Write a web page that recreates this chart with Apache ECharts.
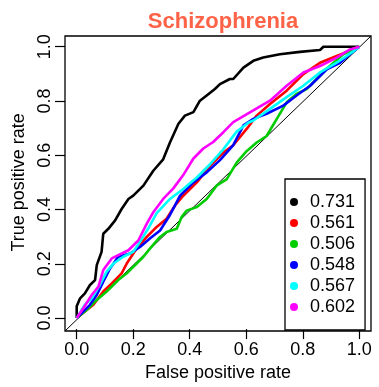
<!DOCTYPE html>
<html>
<head>
<meta charset="utf-8">
<script src="https://cdn.jsdelivr.net/npm/echarts@6/dist/echarts.min.js"></script>
<style>
html,body{margin:0;padding:0;background:#fff;}
#chart{width:379px;height:387px;}
</style>
</head>
<body>
<div id="chart"></div>
<script>
// ---- Data ----
var titleText = "Schizophrenia";
var xTitle = "False positive rate";
var yTitle = "True positive rate";
var tickValues = [0, 0.2, 0.4, 0.6, 0.8, 1.0];

var aucLabels = ["0.731", "0.561", "0.506", "0.548", "0.567", "0.602"];
var colors = ["#000000", "#FF0000", "#00CD00", "#0000FF", "#00FFFF", "#FF00FF"];

var fprBlack = [0, 0, 0.012, 0.029, 0.047, 0.065, 0.071, 0.088, 0.094, 0.112, 0.136, 0.159, 0.183, 0.2, 0.236, 0.271, 0.306, 0.33, 0.36, 0.383, 0.413, 0.436, 0.46, 0.489, 0.507, 0.542, 0.554, 0.59, 0.625, 0.66, 0.719, 0.79, 0.861, 0.873, 1.0];
var tprBlack = [0, 0.044, 0.073, 0.091, 0.122, 0.14, 0.195, 0.244, 0.311, 0.329, 0.36, 0.402, 0.439, 0.451, 0.488, 0.543, 0.585, 0.647, 0.716, 0.746, 0.759, 0.801, 0.82, 0.844, 0.862, 0.881, 0.881, 0.923, 0.948, 0.96, 0.972, 0.981, 0.988, 1.0, 1.0];

var fprRed = [0, 0.059, 0.094, 0.124, 0.159, 0.177, 0.212, 0.248, 0.283, 0.318, 0.348, 0.377, 0.425, 0.472, 0.519, 0.554, 0.602, 0.637, 0.684, 0.743, 0.802, 0.861, 0.92, 0.979, 1.0];
var tprRed = [0, 0.049, 0.098, 0.128, 0.165, 0.201, 0.256, 0.299, 0.336, 0.366, 0.415, 0.451, 0.5, 0.561, 0.61, 0.637, 0.698, 0.746, 0.789, 0.838, 0.899, 0.941, 0.966, 0.99, 1.0];

var fprGreen = [0, 0.035, 0.071, 0.106, 0.147, 0.177, 0.212, 0.236, 0.259, 0.295, 0.318, 0.354, 0.371, 0.389, 0.425, 0.46, 0.495, 0.531, 0.566, 0.602, 0.637, 0.672, 0.708, 0.743, 0.778, 0.814, 0.861, 0.896, 0.943, 1.0];
var tprGreen = [0, 0.03, 0.067, 0.098, 0.14, 0.165, 0.201, 0.226, 0.256, 0.299, 0.317, 0.329, 0.372, 0.396, 0.409, 0.439, 0.488, 0.512, 0.573, 0.616, 0.647, 0.671, 0.734, 0.795, 0.826, 0.844, 0.893, 0.929, 0.972, 1.0];

var fprBlue = [0, 0.047, 0.071, 0.094, 0.118, 0.147, 0.189, 0.224, 0.259, 0.295, 0.33, 0.366, 0.413, 0.46, 0.507, 0.554, 0.59, 0.625, 0.672, 0.731, 0.778, 0.826, 0.885, 0.932, 0.967, 1.0];
var tprBlue = [0, 0.049, 0.085, 0.134, 0.183, 0.226, 0.238, 0.262, 0.293, 0.323, 0.38, 0.451, 0.5, 0.537, 0.582, 0.637, 0.71, 0.734, 0.753, 0.783, 0.82, 0.856, 0.917, 0.941, 0.972, 1.0];

var fprCyan = [0, 0.029, 0.053, 0.082, 0.106, 0.13, 0.165, 0.2, 0.224, 0.253, 0.283, 0.33, 0.377, 0.425, 0.472, 0.519, 0.566, 0.607, 0.625, 0.684, 0.743, 0.802, 0.861, 0.92, 0.979, 1.0];
var tprCyan = [0, 0.049, 0.073, 0.122, 0.171, 0.201, 0.226, 0.244, 0.281, 0.33, 0.387, 0.439, 0.476, 0.518, 0.567, 0.622, 0.687, 0.72, 0.728, 0.771, 0.814, 0.856, 0.905, 0.941, 0.983, 1.0];

var fprMagenta = [0, 0.024, 0.053, 0.077, 0.094, 0.124, 0.147, 0.183, 0.218, 0.248, 0.271, 0.306, 0.342, 0.377, 0.413, 0.448, 0.483, 0.519, 0.554, 0.625, 0.684, 0.743, 0.802, 0.861, 0.92, 0.967, 1.0];
var tprMagenta = [0, 0.037, 0.085, 0.116, 0.177, 0.22, 0.232, 0.25, 0.286, 0.348, 0.39, 0.439, 0.478, 0.527, 0.588, 0.625, 0.649, 0.685, 0.722, 0.765, 0.801, 0.856, 0.905, 0.929, 0.96, 0.99, 1.0];

var diagX = [-0.04, 1.04];
var diagY = [-0.04, 1.04];

// ---- Build chart ----
var FONT = "'Liberation Sans', Arial, Helvetica, sans-serif";
function pairs(xs, ys) { return xs.map(function (x, i) { return [x, ys[i]]; }); }
var curves = [
  pairs(fprBlack, tprBlack), pairs(fprRed, tprRed), pairs(fprGreen, tprGreen),
  pairs(fprBlue, tprBlue), pairs(fprCyan, tprCyan), pairs(fprMagenta, tprMagenta)
];

var series = [{
  type: 'line', xAxisIndex: 0, yAxisIndex: 0, data: pairs(diagX, diagY),
  showSymbol: false, silent: true, z: 1,
  lineStyle: { color: '#000', width: 1 }
}];
curves.forEach(function (d, i) {
  series.push({
    name: aucLabels[i], type: 'line', xAxisIndex: 1, yAxisIndex: 1,
    data: d, showSymbol: false, clip: false, z: 2 + i,
    color: colors[i],
    lineStyle: { color: colors[i], width: 2.6 }
  });
});

var chart = echarts.init(document.getElementById('chart'), null, { renderer: 'canvas' });
chart.setOption({
  animation: false,
  backgroundColor: '#fff',
  textStyle: { fontFamily: FONT },
  title: {
    text: titleText, left: 218, top: 6, textAlign: 'center',
    textStyle: { color: '#FF6347', fontSize: 22, fontWeight: 'bold', fontFamily: FONT }
  },
  legend: {
    data: aucLabels, orient: 'vertical', left: 285, top: 179,
    icon: 'circle', itemWidth: 22, itemHeight: 8, itemGap: 3,
    padding: [14, 10, 14, 5],
    backgroundColor: '#fff', borderColor: '#000', borderWidth: 1.3, borderRadius: 0,
    textStyle: { fontSize: 18, color: '#000', fontFamily: FONT, lineHeight: 18 },
    selectedMode: false
  },
  grid: [
    { left: 65, top: 36, width: 306, height: 295, show: true, borderColor: '#000', borderWidth: 1.3, backgroundColor: 'transparent', containLabel: false },
    { left: 76.7, top: 46.7, width: 282.6, height: 273.3, containLabel: false }
  ],
  xAxis: [
    { gridIndex: 0, type: 'value', min: -0.04, max: 1.04, show: false },
    {
      gridIndex: 1, type: 'value', min: 0, max: 1, interval: 0.2, offset: 11,
      axisLine: { show: false, onZero: false },
      axisTick: { show: true, length: 10, lineStyle: { color: '#000', width: 1.2 } },
      axisLabel: { color: '#000', fontSize: 18, margin: 12, fontFamily: FONT, formatter: function (v) { return v.toFixed(1); } },
      splitLine: { show: false },
      name: xTitle, nameLocation: 'middle', nameGap: 34,
      nameTextStyle: { color: '#000', fontSize: 18, fontFamily: FONT }
    }
  ],
  yAxis: [
    { gridIndex: 0, type: 'value', min: -0.04, max: 1.04, show: false },
    {
      gridIndex: 1, type: 'value', min: 0, max: 1, interval: 0.2, offset: 11.7,
      axisLine: { show: false, onZero: false },
      axisTick: { show: true, length: 10, lineStyle: { color: '#000', width: 1.2 } },
      axisLabel: { color: '#000', fontSize: 18, margin: 11, rotate: 90, fontFamily: FONT, formatter: function (v) { return v.toFixed(1); } },
      splitLine: { show: false },
      name: yTitle, nameLocation: 'middle', nameGap: 22,
      nameTextStyle: { color: '#000', fontSize: 18, fontFamily: FONT }
    }
  ],
  series: series
});
</script>
</body>
</html>
